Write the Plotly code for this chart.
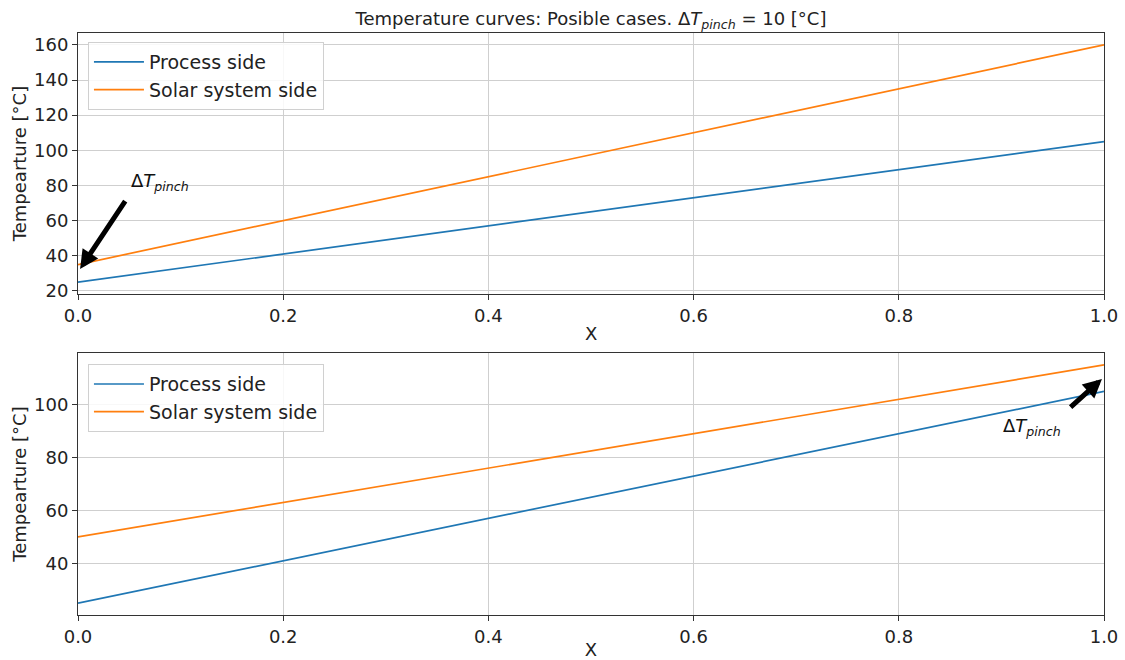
import plotly.graph_objects as go

x_vals = [0.0, 0.2, 0.4, 0.6, 0.8, 1.0]
process_top = [25, 41, 57, 73, 89, 105]
solar_top = [35, 60, 85, 110, 135, 160]
process_bottom = [25, 41, 57, 73, 89, 105]
solar_bottom = [50, 63, 76, 89, 102, 115]
x_ticks = [0.0, 0.2, 0.4, 0.6, 0.8, 1.0]
x_tick_text = ["0.0", "0.2", "0.4", "0.6", "0.8", "1.0"]

BLUE = "#1f77b4"
ORANGE = "#ff7f0e"
FONT = "DejaVu Sans"

fig = go.Figure()
fig.add_trace(go.Scatter(x=x_vals, y=process_top, mode="lines", name="Process side",
                         line=dict(color=BLUE, width=1.7), xaxis="x", yaxis="y", legend="legend"))
fig.add_trace(go.Scatter(x=x_vals, y=solar_top, mode="lines", name="Solar system side",
                         line=dict(color=ORANGE, width=1.7), xaxis="x", yaxis="y", legend="legend"))
fig.add_trace(go.Scatter(x=x_vals, y=process_bottom, mode="lines", name="Process side",
                         line=dict(color=BLUE, width=1.7), xaxis="x2", yaxis="y2", legend="legend2"))
fig.add_trace(go.Scatter(x=x_vals, y=solar_bottom, mode="lines", name="Solar system side",
                         line=dict(color=ORANGE, width=1.7), xaxis="x2", yaxis="y2", legend="legend2"))

axis_common = dict(showline=True, linecolor="#333333", linewidth=1, mirror=True,
                   showgrid=True, gridcolor="#cfcfcf", gridwidth=1,
                   ticks="outside", ticklen=5, tickcolor="#333333",
                   tickfont=dict(family=FONT, size=18, color="#222"),
                   zeroline=False)

y_top_min = min(process_top + solar_top)
y_top_max = max(process_top + solar_top)
pad_t = 0.05 * (y_top_max - y_top_min)
y_bot_min = min(process_bottom + solar_bottom)
y_bot_max = max(process_bottom + solar_bottom)
pad_b = 0.05 * (y_bot_max - y_bot_min)

legend_common = dict(xanchor="left", yanchor="top",
                     bgcolor="rgba(255,255,255,0.85)", bordercolor="#d0d0d0", borderwidth=1,
                     font=dict(family=FONT, size=19, color="#222"), tracegroupgap=0,
                     itemwidth=50)

fig.update_layout(
    width=1125, height=660,
    margin=dict(l=78, r=21, t=33, b=45),
    plot_bgcolor="white", paper_bgcolor="white",
    font=dict(family=FONT, size=18, color="#222"),
    title=dict(text="Temperature curves: Posible cases. Δ<i>T</i><sub><i>pinch</i></sub> = 10 [°C]",
               x=0.5, xref="paper", xanchor="center", y=0.972, yanchor="middle", yref="container",
               font=dict(family=FONT, size=18, color="#222")),
    xaxis=dict(domain=[0, 1], range=[0, 1], anchor="y", tickvals=x_ticks, ticktext=x_tick_text,
               automargin=False, **axis_common),
    yaxis=dict(domain=[0.5515, 1.0], range=[y_top_min - pad_t, y_top_max + pad_t], anchor="x",
               tickvals=[20, 40, 60, 80, 100, 120, 140, 160], automargin="left",
               title=dict(text="Tempearture [°C]", standoff=2, font=dict(size=18)), **axis_common),
    xaxis2=dict(domain=[0, 1], range=[0, 1], anchor="y2", tickvals=x_ticks, ticktext=x_tick_text,
                automargin=False,
                title=dict(text="X", font=dict(size=18)), **axis_common),
    yaxis2=dict(domain=[0, 0.4502], range=[y_bot_min - pad_b, y_bot_max + pad_b], anchor="x2",
                tickvals=[40, 60, 80, 100], automargin="left",
                title=dict(text="Tempearture [°C]", standoff=2, font=dict(size=18)), **axis_common),
    legend=dict(x=0.0097, y=0.9845, **legend_common),
    legend2=dict(x=0.0097, y=0.431, **legend_common),
    showlegend=True,
)

# x-axis title of the top panel
fig.add_annotation(x=0.5, y=0.4845, xref="paper", yref="paper", xanchor="center", yanchor="middle",
                   text="X", showarrow=False, font=dict(family=FONT, size=18, color="#222"))

# Annotations (arrows + labels)
fig.add_annotation(x=0.002, y=32.5, ax=0.047, ay=72, xref="x", yref="y", axref="x", ayref="y",
                   showarrow=True, arrowhead=2, arrowsize=0.75, arrowwidth=5, arrowcolor="black", text="")
fig.add_annotation(x=0.05, y=82, xref="x", yref="y", xanchor="left", yanchor="middle",
                   text="Δ<i>T</i><sub><i>pinch</i></sub>", showarrow=False,
                   font=dict(family=FONT, size=18, color="#111"))
fig.add_annotation(x=0.998, y=109.7, ax=0.966, ay=98.5, xref="x2", yref="y2", axref="x2", ayref="y2",
                   showarrow=True, arrowhead=2, arrowsize=0.75, arrowwidth=5, arrowcolor="black", text="")
fig.add_annotation(x=0.9, y=91.5, xref="x2", yref="y2", xanchor="left", yanchor="middle",
                   text="Δ<i>T</i><sub><i>pinch</i></sub>", showarrow=False,
                   font=dict(family=FONT, size=18, color="#111"))

fig.write_html("out.html")
